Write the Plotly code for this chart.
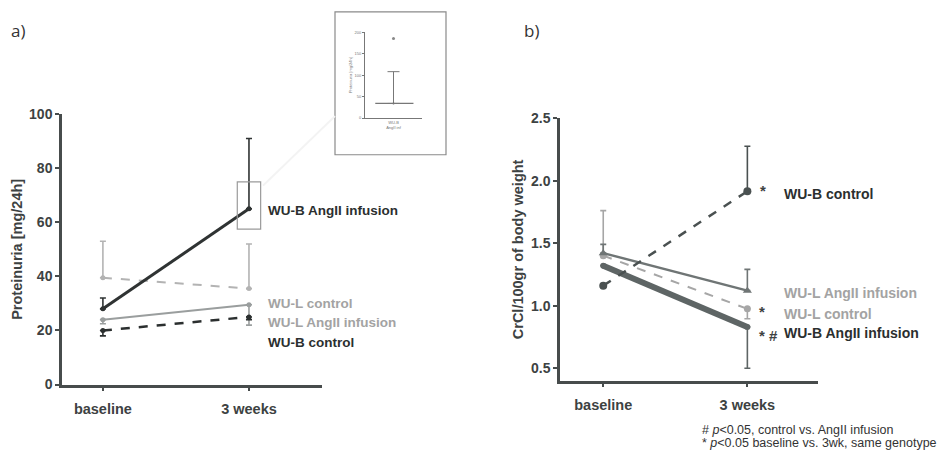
import plotly.graph_objects as go

W, H = 951, 464
categories = ["baseline", "3 weeks"]
xpos = [0, 1]

# Panel a: Proteinuria [mg/24h]
a_wub_angii = [28, 65]
a_wub_angii_up = [4, 26]
a_wul_control = [39.5, 35.5]
a_wul_control_up = [13.5, 16.5]
a_wul_angii = [24, 29.5]
a_wul_angii_dn = [1.5, 7.5]
a_wub_control = [20, 25]
a_wub_control_dn = [2, 1]

# Panel b: CrCl/100gr of body weight
b_wub_control = [1.16, 1.915]
b_wub_control_up = [0.0, 0.36]
b_wul_angii = [1.42, 1.12]
b_wul_angii_up = [0.07, 0.17]
b_wul_control = [1.40, 0.975]
b_wul_control_up = [0.36, 0.0]
b_wul_control_dn = [0.0, 0.08]
b_wub_angii = [1.32, 0.83]
b_wub_angii_dn = [0.0, 0.33]

# Inset (WU-B AngII inf individual)
inset_point = [185]
inset_mean = [34]
inset_mean_up = [74]

BMID = "#5e6565"
AXC = "#474c4c"
TXT = "#3d4242"
FONT = "Liberation Sans"

fig = go.Figure()

def add(xa, ya, y, color, width, dash, up=None, dn=None, size=5, symbol="circle"):
    err = None
    if up is not None or dn is not None:
        err = dict(type="data", symmetric=False,
                   array=up if up is not None else [0, 0],
                   arrayminus=dn if dn is not None else [0, 0],
                   color=color, thickness=1.6, width=3)
    fig.add_trace(go.Scatter(x=xpos, y=y, xaxis=xa, yaxis=ya, mode="lines+markers",
                             line=dict(color=color, width=width, dash=dash),
                             marker=dict(color=color, size=size, symbol=symbol),
                             error_y=err, showlegend=False, hoverinfo="skip"))

# panel a
add("x", "y", a_wul_control, "#b3b3b3", 2, "dash", up=a_wul_control_up)
add("x", "y", a_wul_angii, "#9a9e9e", 2, "solid", dn=a_wul_angii_dn)
add("x", "y", a_wub_control, "#2b2f2f", 2.5, "dash", dn=a_wub_control_dn)
add("x", "y", a_wub_angii, "#2f3333", 3, "solid", up=a_wub_angii_up)

# panel b
add("x2", "y2", b_wul_control, "#a6a6a6", 2, "dash", up=b_wul_control_up, dn=b_wul_control_dn, size=7)
add("x2", "y2", b_wul_angii, "#6f7575", 2.5, "solid", up=b_wul_angii_up, size=8, symbol="triangle-up")
add("x2", "y2", b_wub_angii, BMID, 6, "solid", dn=b_wub_angii_dn, size=6)
add("x2", "y2", b_wub_control, "#4a5151", 2.5, "dash", up=b_wub_control_up, size=8)

# inset
fig.add_trace(go.Scatter(x=[0.5], y=inset_point, xaxis="x3", yaxis="y3", mode="markers",
                         marker=dict(color="#888", size=3), showlegend=False, hoverinfo="skip"))
fig.add_trace(go.Scatter(x=[0.5], y=inset_mean, xaxis="x3", yaxis="y3", mode="markers",
                         marker=dict(color="#666", size=2),
                         error_y=dict(type="data", symmetric=False, array=inset_mean_up, arrayminus=[0],
                                      color="#777", thickness=1, width=6),
                         showlegend=False, hoverinfo="skip"))

def xax(domain, rng):
    return dict(domain=domain, range=rng, tickvals=xpos, ticktext=categories,
                showline=True, linecolor=AXC, linewidth=2.5, ticks="outside", ticklen=4,
                tickcolor=AXC, tickwidth=1.5, showgrid=False, zeroline=False,
                ticklabelstandoff=5,
                tickfont=dict(family=FONT, size=14.5, color=TXT, weight="bold"))

def yax(domain, rng, tv, fmt, title, anchor, tsize):
    return dict(domain=domain, range=rng, tickvals=tv, tickformat=fmt, anchor=anchor,
                showline=True, linecolor=AXC, linewidth=2.5, ticks="outside", ticklen=4,
                tickcolor=AXC, tickwidth=1.5, showgrid=False, zeroline=False,
                tickfont=dict(family=FONT, size=14, color=TXT, weight="bold"),
                title=dict(text=title, font=dict(family=FONT, size=tsize, color=TXT, weight="bold"),
                           standoff=4))

fig.update_layout(
    width=W, height=H, margin=dict(l=0, r=0, t=0, b=0),
    paper_bgcolor="white", plot_bgcolor="white",
    xaxis=xax([62 / W, 322 / W], [-0.28, 1.5]) | dict(anchor="y"),
    yaxis=yax([1 - 390 / H, 1 - 110 / H], [0, 100], [0, 20, 40, 60, 80, 100], "d",
              "Proteinuria [mg/24h]", "x", 14.5),
    xaxis2=xax([560 / W, 818 / W], [-0.3, 1.49]) | dict(anchor="y2"),
    yaxis2=yax([1 - 386 / H, 1 - 114 / H], [0.4, 2.5], [0.5, 1.0, 1.5, 2.0, 2.5], ".1f",
               "CrCl/100gr of body weight", "x2", 14.5),
    xaxis3=dict(domain=[365 / W, 422 / W], range=[0, 1], anchor="y3", showline=True,
                linecolor="#777", linewidth=1, tickvals=[0.5], ticktext=["WU-B<br>AngII inf"],
                ticks="", tickfont=dict(family=FONT, size=4, color="#777"), showgrid=False,
                zeroline=False),
    yaxis3=dict(domain=[1 - 114 / H, 1 - 25 / H], range=[0, 200], anchor="x3", showline=True,
                linecolor="#777", linewidth=1, tickvals=[0, 50, 100, 150, 200], ticks="outside",
                ticklen=2, tickcolor="#777", tickfont=dict(family=FONT, size=4, color="#777"),
                showgrid=False, zeroline=False,
                title=dict(text="Proteinuria [mg/24h]", font=dict(family=FONT, size=4, color="#777"),
                           standoff=2)),
)

shapes = [
    # inset frame
    dict(type="rect", xref="paper", yref="paper", x0=335 / W, x1=446 / W, y0=1 - 152 / H, y1=1 - 4 / H,
         line=dict(color="#8a8a8a", width=1.2)),
    # highlight box around 3wk point in panel a
    dict(type="rect", xref="x", yref="y", x0=0.92, x1=1.08, y0=57.5, y1=75,
         line=dict(color="#9a9a9a", width=1.2)),
    # faint connector
    dict(type="line", xref="paper", yref="paper", x0=263 / W, y0=1 - 184 / H, x1=335 / W, y1=1 - 112 / H,
         line=dict(color="#f3f3f3", width=2)),
    # inset mean line
    dict(type="line", xref="x3", yref="y3", x0=0.18, x1=0.85, y0=inset_mean[0], y1=inset_mean[0],
         line=dict(color="#777", width=1.2)),
]
fig.update_layout(shapes=shapes)

def lab(text, x, y, xref, yref, color, size=13.5, xanchor="left", weight="bold", family=FONT):
    fig.add_annotation(text=text, x=x, y=y, xref=xref, yref=yref, showarrow=False,
                       xanchor=xanchor, yanchor="middle",
                       font=dict(family=family, size=size, color=color, weight=weight))

# panel a labels
lab("WU-B AngII infusion", 1.12, 64.3, "x", "y", "#2b2f2f")
lab("WU-L control", 1.12, 30, "x", "y", "#a3a3a3")
lab("WU-L AngII infusion", 1.12, 22.9, "x", "y", "#a3a3a3")
lab("WU-B control", 1.12, 15.7, "x", "y", "#2b2f2f")

# panel b labels
lab("WU-B control", 1.243, 1.89, "x2", "y2", "#2b2f2f", size=14)
lab("WU-L AngII infusion", 1.243, 1.10, "x2", "y2", "#a3a3a3", size=14)
lab("WU-L control", 1.243, 0.93, "x2", "y2", "#a3a3a3", size=14)
lab("WU-B AngII infusion", 1.243, 0.78, "x2", "y2", "#2b2f2f", size=14)
lab("*", 1.11, 1.92, "x2", "y2", TXT, size=15, xanchor="center")
lab("*", 1.10, 0.95, "x2", "y2", TXT, size=15, xanchor="center")
lab("* #", 1.15, 0.76, "x2", "y2", TXT, size=15, xanchor="center")

# panel letters
lab("a)", 9 / W, 1 - 23 / H, "paper", "paper", "#333", size=17, weight="normal", family="Open Sans")
lab("b)", 522 / W, 1 - 23 / H, "paper", "paper", "#333", size=17, weight="normal", family="Open Sans")

# footnotes
lab("# <i>p</i><0.05, control vs. AngII infusion", 700 / W, 1 - 437 / H, "paper", "paper", "#333",
    size=12.5, weight="normal")
lab("* <i>p</i><0.05 baseline vs. 3wk, same genotype", 700 / W, 1 - 451 / H, "paper", "paper", "#333",
    size=12.5, weight="normal")

fig.write_html("out.html")
